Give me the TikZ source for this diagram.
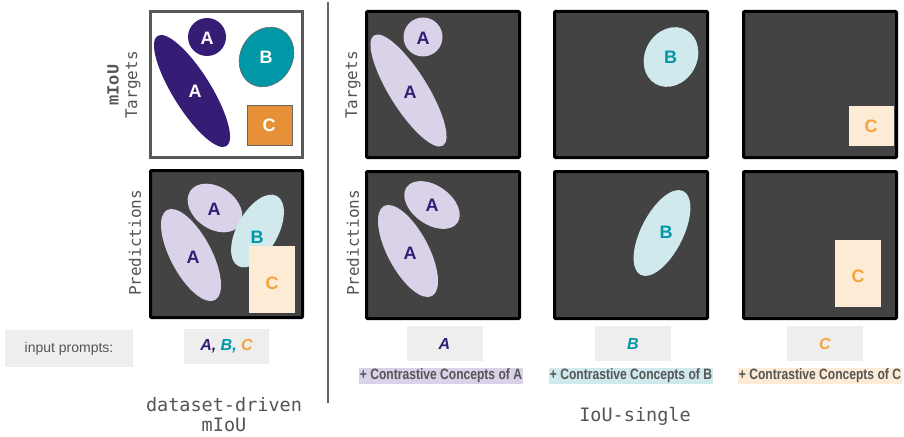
\documentclass[tikz,border=0pt]{standalone}
\usepackage{fontspec}
\setmainfont{Liberation Sans}
\setmonofont{DejaVu Sans Mono}
\newfontfamily\courbold{Liberation Mono}
\usepackage{tikz}
\usetikzlibrary{calc}
\tikzset{>=latex}
\definecolor{mypurple}{HTML}{351C75}
\definecolor{myteal}{HTML}{0097A7}
\definecolor{myorange}{HTML}{E69138}
\definecolor{lightorange}{HTML}{F6A33C}
\definecolor{mylav}{HTML}{D9D2E9}
\definecolor{mycyan}{HTML}{D0E9EC}
\definecolor{mypeach}{HTML}{FDEBD6}
\definecolor{mydark}{HTML}{434343}
\definecolor{mygray1}{HTML}{EEEEEE}
\definecolor{mytext}{HTML}{555555}
\newcommand{\fsz}[1]{\fontsize{#1}{#1}\selectfont}

\begin{document}
\begin{tikzpicture}[x=1pt, y=-1pt,
  darkbox/.style={fill=mydark, draw=black, line width=3pt, rounded corners=1pt},
  lettr/.style={font=\fsz{18}\bfseries},
  sidelabel/.style={rotate=90, text=mytext, font=\fsz{16}\ttfamily},
  promptbox/.style={fill=mygray1, inner sep=0pt},
  concept/.style={inner xsep=1pt, inner ysep=0pt, text height=11.5pt, text depth=4pt, text=mytext, font=\fsz{15}\bfseries}]
\fill[white] (0,0) rectangle (904,436);
\useasboundingbox (0,0) rectangle (904,436);

% divider
\draw[line width=2pt, gray!80!black] (328,2) -- (328,403);

% dataset-driven mIoU: targets
\draw[fill=white, draw=black!65, line width=3pt] (150.5,11.5) rectangle (302.5,157.5);
\fill[mypurple, rotate around={-58:(192,91)}] (192,91) ellipse [x radius=65pt, y radius=19pt];
\fill[mypurple] (207,37) circle (19pt);
\filldraw[fill=myteal, draw=black!60, line width=0.6pt, rotate around={60:(266.5,57)}] (266.5,57) ellipse [x radius=31pt, y radius=26pt];
\filldraw[fill=myorange, draw=black!60, line width=0.6pt] (247,105) rectangle (292,145);
\node[lettr, white] (tA1) at (207,38) {A};
\node[lettr, white] (tA2) at (195,91) {A};
\node[lettr, white] (tB) at (266,57) {B};
\node[lettr, white] (tC) at (269,125) {C};

% dataset-driven mIoU: predictions
\draw[darkbox] (150.5,170.5) rectangle (302.5,317.5);
\fill[mylav, rotate around={-62:(191,255)}] (191,255) ellipse [x radius=51pt, y radius=20.5pt];
\fill[mylav, rotate around={-35:(215,208)}] (215,208) ellipse [x radius=30pt, y radius=21pt];
\fill[mycyan, rotate around={61:(257.5,231)}] (257.5,231) ellipse [x radius=40pt, y radius=20.5pt];
\fill[mypeach] (249,246) rectangle (295,313);
\node[lettr, mypurple] (pA1) at (214,209) {A};
\node[lettr, mypurple] (pA2) at (193,257) {A};
\node[lettr, myteal] (pB) at (257,237) {B};
\node[lettr, lightorange] (pC) at (272,283) {C};

\node[sidelabel] (lt) at (133,85) {Targets};
\node[rotate=90, text=mytext, font=\fsz{17}\courbold\bfseries] (lm) at (113,85) {mIoU};
\node[sidelabel] (lp) at (135,243) {Predictions};

% IoU-single boxes
\foreach \x in {366.5, 554.5, 743.5}{
\draw[darkbox] (\x,11.5) rectangle ++(153,146);
\draw[darkbox] (\x,171.5) rectangle ++(153,147);
}
\node[sidelabel] (rt) at (353,85) {Targets};
\node[sidelabel] (rp) at (353,243) {Predictions};

% targets per concept
\fill[mylav, rotate around={-58:(408.5,90.5)}] (408.5,90.5) ellipse [x radius=65pt, y radius=19pt];
\fill[mylav] (423,37) circle (19.5pt);
\fill[mycyan, rotate around={60:(671,57)}] (671,57) ellipse [x radius=31pt, y radius=26pt];
\fill[mypeach] (849,106) rectangle (894,146);
\node[lettr, mypurple] (sA1) at (423,38) {A};
\node[lettr, mypurple] (sA2) at (410,92) {A};
\node[lettr, myteal] (sB) at (670.5,57) {B};
\node[lettr, lightorange] (sC) at (871,126) {C};

% predictions per concept
\fill[mylav, rotate around={-62:(408,251)}] (408,251) ellipse [x radius=51pt, y radius=20.5pt];
\fill[mylav, rotate around={-35:(432,205)}] (432,205) ellipse [x radius=31pt, y radius=19.5pt];
\fill[mycyan, rotate around={63:(662,233)}] (662,233) ellipse [x radius=47pt, y radius=21pt];
\fill[mypeach] (835,240) rectangle (881,307);
\node[lettr, mypurple] (qA1) at (432,205) {A};
\node[lettr, mypurple] (qA2) at (410,253) {A};
\node[lettr, myteal] (qB) at (666,232) {B};
\node[lettr, lightorange] (qC) at (858,276) {C};

% prompts
\node[promptbox, minimum width=128pt, minimum height=37pt, text=mytext, font=\fsz{14}] (inp) at (69,348.5) {input prompts:};
\node[promptbox, minimum width=85pt, minimum height=35pt, font=\fsz{16}\bfseries\itshape] (abc) at (226.5,346.5)
  {\color{mypurple}A, \color{myteal}B, \color{lightorange}C};
\foreach \x/\c/\l in {444.5/mypurple/A, 633/myteal/B, 825/lightorange/C}{
\node[promptbox, minimum width=76pt, minimum height=35pt, text=\c, font=\fsz{16}\bfseries\itshape] (pr\l) at (\x,343.5) {\l};
}
\node[concept, fill=mylav] (ccA) at (441,376) {\scalebox{0.805}[1]{+ Contrastive Concepts of A}};
\node[concept, fill=mycyan] (ccB) at (631,376) {\scalebox{0.805}[1]{+ Contrastive Concepts of B}};
\node[concept, fill=mypeach] (ccC) at (820,376) {\scalebox{0.805}[1]{+ Contrastive Concepts of C}};

% column titles
\node[anchor=base, text=mytext, font=\fsz{18.5}\ttfamily] (dd) at (224,411) {dataset-driven};
\node[anchor=base, text=mytext, font=\fsz{18.5}\ttfamily] (dm) at (224,431.5) {mIoU};
\node[anchor=base, text=mytext, font=\fsz{18.5}\ttfamily] (is) at (635,421) {IoU-single};
\end{tikzpicture}
\end{document}
